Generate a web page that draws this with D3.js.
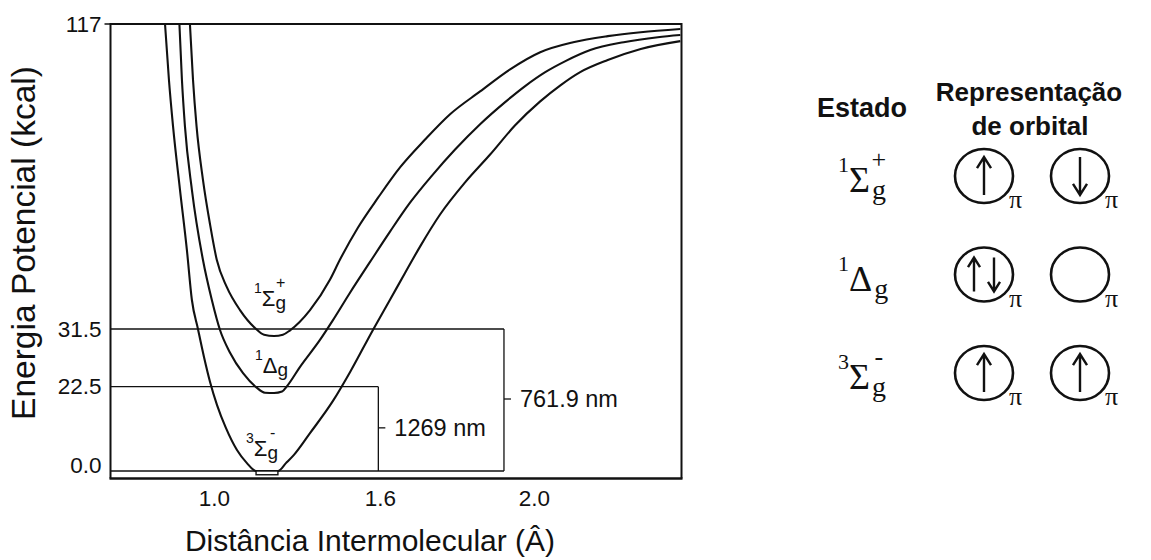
<!DOCTYPE html>
<html>
<head>
<meta charset="utf-8">
<script src="https://cdn.jsdelivr.net/npm/d3@7"></script>
<style>
  html, body { margin: 0; padding: 0; background: #fff; }
  svg { display: block; }
</style>
</head>
<body>
<svg id="chart" width="1151" height="560"></svg>
<script>
// Potential energy curves of molecular oxygen: ground and the two singlet states.
// Interatomic distance r (Å) and energy E (kcal).
const rSigmaPlus = [0.913, 0.924, 0.937, 0.960, 0.986, 1.010, 1.046, 1.094, 1.148, 1.181, 1.217, 1.249, 1.275, 1.347,
                    1.419, 1.455, 1.520, 1.593, 1.652, 1.717, 1.782, 1.860, 1.938, 2.016, 2.101, 2.190, 2.275, 2.377];
const eSigmaPlus = [117, 101.5, 88.3, 73.4, 60.7, 50.9, 43.3, 36.8, 31.8, 30.6, 30.4, 30.6, 31.3, 36.8,
                    45.3, 50.9, 59.9, 68.3, 76.8, 84.6, 91.7, 98.1, 104.3, 109.1, 111.9, 113.6, 114.7, 115.6];

const rDelta = [0.875, 0.884, 0.895, 0.920, 0.960, 0.992, 1.022, 1.058, 1.105, 1.152, 1.184, 1.217, 1.246, 1.264,
                1.311, 1.383, 1.430, 1.491, 1.564, 1.626, 1.678, 1.735, 1.795, 1.860, 1.925, 1.977, 2.029, 2.081,
                2.145, 2.231, 2.319, 2.377];
const eDelta = [117, 101.5, 88.3, 70.6, 50.9, 39.7, 31.3, 27.8, 24.6, 22.4, 20.9, 20.8, 21.2, 22.6,
                25.6, 29.8, 34.0, 41.6, 50.3, 58.8, 66.9, 74.5, 81.8, 88.9, 95.1, 99.6, 103.5, 106.6,
                109.7, 111.9, 113.3, 113.9];

const rGround = [0.823, 0.837, 0.852, 0.877, 0.902, 0.920, 0.942, 0.964, 0.986, 1.011, 1.043, 1.083, 1.119, 1.152,
                 1.188, 1.231, 1.260, 1.289, 1.347, 1.430, 1.492, 1.575, 1.626, 1.665, 1.704, 1.756, 1.821,
                 1.886, 1.951, 2.016, 2.068, 2.119, 2.190, 2.275, 2.377];
const eGround = [117, 101.5, 88.3, 70.6, 53.7, 39.7, 31.5, 27.1, 23.2, 17.6, 11.5, 5.6, 2.1, 0,
                 0, 0, 2.1, 4.3, 10.1, 18.7, 24.8, 31.4, 39.7, 47.2, 54.6, 63.6, 72.6,
                 80.4, 88.6, 95.3, 99.8, 103.5, 106.9, 110.0, 112.2];

// Axis ticks
const xTicks = [1.0, 1.6, 2.0];
const xTickLabels = ["1.0", "1.6", "2.0"];
const yTicks = [0, 22.5, 31.5, 117];
const yTickLabels = ["0.0", "22.5", "31.5", "117"];

// Emission from each singlet level down to the ground level
const transUpper = [22.5, 31.5];
const transR = [1.594, 1.922];
const transLabels = ["1269 nm", "761.9 nm"];

// States, top to bottom: term symbol parts and π-orbital occupation (+1 spin up, -1 spin down)
const stateMult = ["1", "1", "3"];
const stateSymbol = ["Σ", "Δ", "Σ"];
const stateSign = ["+", "", "-"];
const spinsFirst = [[1], [1, -1], [1]];
const spinsSecond = [[-1], [], [1]];

const curvesR = [rSigmaPlus, rDelta, rGround];
const curvesE = [eSigmaPlus, eDelta, eGround];

// ---------------------------------------------------------------------------
const svg = d3.select("#chart");
const SANS = "'Liberation Sans', Arial, Helvetica, sans-serif";
const SERIF = "'Liberation Serif', 'Times New Roman', Times, serif";
const INK = "#111";

// The energy and distance axes are schematic, so both scales are piecewise.
const x = d3.scaleLinear()
  .domain([0.626, 1.0, 1.6, 2.0, 2.38])
  .range([110.5, 214, 380, 534, 681.5]);
const y = d3.scaleLinear()
  .domain([-2.0, 0, 22.5, 31.5, 117])
  .range([478.5, 471, 386.7, 329, 24]);

const rMin = x.domain()[0], rMax = x.domain()[x.domain().length - 1];
const eMin = y.domain()[0], eMax = y.domain()[y.domain().length - 1];

function label(parent, px, py, str, size, opts = {}) {
  return parent.append("text")
    .attr("x", px).attr("y", py)
    .attr("font-family", opts.family || SANS)
    .attr("font-size", size)
    .attr("font-weight", opts.weight || "normal")
    .attr("text-anchor", opts.anchor || "start")
    .attr("fill", INK)
    .text(str);
}

const plot = svg.append("g");

// Level lines and the two transition brackets
const levels = plot.append("g").attr("stroke", INK).attr("stroke-width", 1.3).attr("fill", "none");
levels.append("line")
  .attr("x1", x(rMin)).attr("x2", x(d3.max(transR)))
  .attr("y1", y(0)).attr("y2", y(0));
transUpper.forEach((E, i) => {
  levels.append("line")
    .attr("x1", x(rMin)).attr("x2", x(transR[i]))
    .attr("y1", y(E)).attr("y2", y(E));
  levels.append("line")
    .attr("x1", x(transR[i])).attr("x2", x(transR[i]))
    .attr("y1", y(E)).attr("y2", y(0));
  const ym = (y(E) + y(0)) / 2 - 1;
  levels.append("line")
    .attr("x1", x(transR[i])).attr("x2", x(transR[i]) + 7)
    .attr("y1", ym).attr("y2", ym);
  label(plot, x(transR[i]) + 16, ym + 8, transLabels[i], 23.5);
});

// Potential curves
const line = d3.line()
  .x(d => x(d[0]))
  .y(d => y(d[1]))
  .curve(d3.curveMonotoneX);
curvesR.forEach((rs, k) => {
  plot.append("path")
    .datum(rs.map((r, i) => [r, curvesE[k][i]]))
    .attr("d", line)
    .attr("fill", "none")
    .attr("stroke", INK)
    .attr("stroke-width", 2.1)
    .attr("stroke-linejoin", "round");
});

// Zero-point marker at the bottom of the ground-state well
const g0 = d3.minIndex(eGround);
plot.append("rect")
  .attr("x", x(rGround[g0]))
  .attr("y", y(0))
  .attr("width", x(rGround[g0 + 2]) - x(rGround[g0]))
  .attr("height", y(-1.0) - y(0))
  .attr("fill", "#fff")
  .attr("stroke", INK)
  .attr("stroke-width", 1.4);

// Frame
plot.append("path")
  .attr("d", `M${x(rMin)},${y(eMin)}V${y(eMax)}H${x(rMax)}V${y(eMin)}`)
  .attr("fill", "none").attr("stroke", INK).attr("stroke-width", 2);
plot.append("line")
  .attr("x1", x(rMin) - 1).attr("x2", x(rMax) + 1)
  .attr("y1", y(eMin)).attr("y2", y(eMin))
  .attr("stroke", INK).attr("stroke-width", 2.6);
plot.append("line")
  .attr("x1", x(rMin) - 6).attr("x2", x(rMin))
  .attr("y1", y(eMax)).attr("y2", y(eMax))
  .attr("stroke", INK).attr("stroke-width", 1.5);

// Axes
const yAxis = svg.append("g")
  .attr("transform", `translate(${x(rMin)},0)`)
  .call(d3.axisLeft(y).tickValues(yTicks).tickFormat((d, i) => yTickLabels[i]).tickSize(0).tickPadding(9));
yAxis.select(".domain").remove();
yAxis.selectAll("text")
  .attr("font-family", SANS).attr("font-size", 22.5).attr("fill", INK)
  .filter(d => d === 0).attr("y", -6);

const xAxis = svg.append("g")
  .attr("transform", `translate(0,${y(eMin)})`)
  .call(d3.axisBottom(x).tickValues(xTicks).tickFormat((d, i) => xTickLabels[i]).tickSize(0).tickPadding(12));
xAxis.select(".domain").remove();
xAxis.selectAll("text")
  .attr("font-family", SANS).attr("font-size", 22.5).attr("fill", INK);

// Axis titles
label(svg, 370, 551, "Distância Intermolecular (Â)", 30, { anchor: "middle" });
svg.append("text")
  .attr("transform", "translate(35,243) rotate(-90)")
  .attr("font-family", SANS).attr("font-size", 33.5).attr("fill", INK)
  .attr("text-anchor", "middle")
  .text("Energia Potencial (kcal)");

// Term symbol written as one text: multiplicity, Greek letter, subscript g, sign above the g
function term(parent, px, base, i, s) {
  const t = parent.append("text")
    .attr("x", px).attr("y", base - s.multRaise)
    .attr("font-family", s.family).attr("fill", INK);
  t.append("tspan").attr("font-size", s.multSize).text(stateMult[i]);
  t.append("tspan").attr("y", base).attr("font-size", s.symSize).text(stateSymbol[i]);
  const g = t.append("tspan").attr("y", base + s.subDrop).attr("dx", s.gap)
    .attr("font-size", s.subSize).text("g");
  if (stateSign[i]) {
    const gx = t.node().getStartPositionOfChar(stateMult[i].length + stateSymbol[i].length).x;
    const gw = g.node().getComputedTextLength();
    const sg = t.append("tspan").attr("y", base - s.signRaise)
      .attr("font-size", s.signSize).text(stateSign[i]);
    const sw = sg.node().getComputedTextLength();
    sg.attr("x", gx + (gw - sw) / 2);
  }
}

// Labels inside each well
const wellStyle = { family: SANS, multSize: 14, multRaise: 13, symSize: 22, subSize: 19, subDrop: 3, gap: 0, signSize: 16, signRaise: 18 };
const wellOffsets = [[-20, -30], [-19, -20], [-10, -15]];
curvesR.forEach((rs, k) => {
  const j = d3.minIndex(curvesE[k]);
  term(plot, x(rs[j]) + wellOffsets[k][0], y(curvesE[k][j]) + wellOffsets[k][1], k, wellStyle);
});

// Table of states and orbital diagrams
const panel = svg.append("g");
label(panel, 862, 117, "Estado", 27, { weight: "bold", anchor: "middle" });
label(panel, 1029, 101, "Representação", 26, { weight: "bold", anchor: "middle" });
label(panel, 1030, 135, "de orbital", 26, { weight: "bold", anchor: "middle" });

const rowY = d3.scalePoint().domain(d3.range(stateMult.length)).range([176, 373]);
const colX = d3.scalePoint().domain([0, 1]).range([984, 1080]);
const panelStyle = { family: SERIF, multSize: 22, multRaise: 20, symSize: 36, subSize: 28, subDrop: 7, gap: 2, signSize: 26, signRaise: 24 };

function arrow(parent, ax, cy, dir, h, hw) {
  const tip = cy - dir * h, tail = cy + dir * h;
  const head = tip + dir * (hw * 1.6);
  parent.append("path")
    .attr("d", `M${ax},${tail}L${ax},${tip}M${ax - hw},${head}L${ax},${tip}L${ax + hw},${head}`)
    .attr("fill", "none").attr("stroke", INK).attr("stroke-width", 2.4)
    .attr("stroke-linejoin", "miter").attr("stroke-linecap", "butt");
}

d3.range(stateMult.length).forEach(i => {
  const cy = rowY(i);
  term(panel, 838, cy + 16, i, panelStyle);
  [spinsFirst[i], spinsSecond[i]].forEach((spins, c) => {
    const cx = colX(c);
    panel.append("ellipse")
      .attr("cx", cx).attr("cy", cy).attr("rx", 29).attr("ry", 27)
      .attr("fill", "none").attr("stroke", INK).attr("stroke-width", 2.6);
    const offs = spins.length === 2 ? [-10, 10] : [0];
    const h = spins.length === 2 ? 17 : 19;
    spins.forEach((s, k) => arrow(panel, cx + offs[k], cy, s, h, spins.length === 2 ? 6 : 7));
    label(panel, cx + 25, cy + 32, "π", 26, { family: SERIF });
  });
});
</script>
</body>
</html>
